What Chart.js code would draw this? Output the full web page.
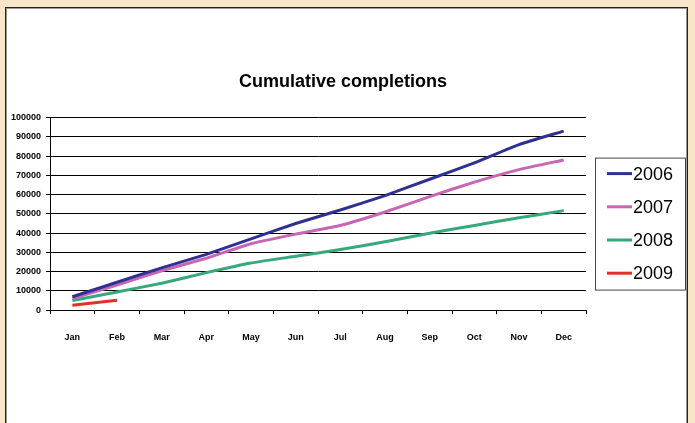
<!DOCTYPE html>
<html>
<head>
<meta charset="utf-8">
<script src="https://cdn.jsdelivr.net/npm/chart.js@4"></script>
<style>
    body { margin: 0; background: #f9e6c9; width: 695px; height: 423px; overflow: hidden; position: relative; }
    #frame { position: absolute; left: 5px; top: 7px; width: 681px; height: 440px; background: #fff;
             border: 1px solid #222; box-shadow: inset 0 0 0 1px #999; }
    #wrap { position: absolute; left: 0; top: 0; width: 695px; height: 423px; }
</style>
</head>
<body>
<div id="frame"></div>
<div id="wrap"><canvas id="completionsChart" width="695" height="423"></canvas></div>
<script>
// Chart data
const months = ['Jan', 'Feb', 'Mar', 'Apr', 'May', 'Jun', 'Jul', 'Aug', 'Sep', 'Oct', 'Nov', 'Dec'];
const years = ['2006', '2007', '2008', '2009'];
const completions2006 = [7000, 14500, 22000, 29000, 37000, 45000, 52000, 59500, 68000, 76500, 86000, 93000];
const completions2007 = [6000, 13000, 20500, 27000, 34500, 39500, 44000, 51000, 59000, 66500, 73000, 78000];
const completions2008 = [5000, 9500, 14000, 19500, 24500, 28000, 31500, 35500, 40000, 44000, 48000, 51700];
const completions2009 = [2600, 5200];
const yTicks = [0, 10000, 20000, 30000, 40000, 50000, 60000, 70000, 80000, 90000, 100000];

const lineColors = ['#2e3192', '#c865b5', '#36a87a', '#e5302a'];
const FONT = 'Arial, "Liberation Sans", sans-serif';

// Excel-style boxed legend, added as a layout box on the right so the
// title stays centred on the whole frame
const boxedLegend = {
    id: 'boxedLegend',
    beforeInit(chart, args, opts) {
        const box = {
            position: 'right',
            weight: 1000,
            fullSize: false,
            options: {},
            isHorizontal() { return false; },
            getPadding() { return { top: 0, left: 0, bottom: 0, right: 0 }; },
            update(maxWidth, maxHeight) {
                this.width = opts.boxWidth;
                this.height = maxHeight;
            },
            draw() {
                const ctx = chart.ctx;
                const left = this.left + opts.gap;
                const top = chart.chartArea.top + opts.offsetTop;
                ctx.save();
                ctx.strokeStyle = '#444';
                ctx.lineWidth = 1;
                ctx.strokeRect(left + 0.5, top + 0.5, opts.frameWidth, opts.frameHeight);
                ctx.font = '18px ' + FONT;
                ctx.textBaseline = 'middle';
                ctx.fillStyle = '#000';
                chart.data.datasets.forEach((ds, i) => {
                    const y = top + opts.firstRow + i * opts.rowGap;
                    ctx.strokeStyle = ds.borderColor;
                    ctx.lineWidth = 3;
                    ctx.beginPath();
                    ctx.moveTo(left + 12, y);
                    ctx.lineTo(left + 37, y);
                    ctx.stroke();
                    ctx.fillText(ds.label, left + 38, y + 1);
                });
                ctx.restore();
            }
        };
        Chart.layouts.addBox(chart, box);
    }
};

document.addEventListener('DOMContentLoaded', function() {
    const series = [completions2006, completions2007, completions2008, completions2009];
    const ctx = document.getElementById('completionsChart').getContext('2d');

    new Chart(ctx, {
        type: 'line',
        data: {
            labels: months,
            datasets: series.map((values, i) => ({
                label: years[i],
                data: values,
                borderColor: lineColors[i],
                backgroundColor: lineColors[i],
                borderWidth: 3,
                pointRadius: 0,
                tension: 0.15,
                fill: false
            }))
        },
        options: {
            responsive: false,
            animation: false,
            layout: {
                padding: { left: 6, right: 15, top: 0, bottom: 62 }
            },
            plugins: {
                legend: { display: false },
                tooltip: { enabled: false },
                title: {
                    display: true,
                    text: 'Cumulative completions',
                    color: '#000',
                    font: { family: FONT, size: 18, weight: 'bold' },
                    padding: { top: 71, bottom: 25 }
                },
                boxedLegend: { boxWidth: 94, gap: 9, offsetTop: 40, frameWidth: 90, frameHeight: 132, firstRow: 16, rowGap: 33.2 }
            },
            scales: {
                x: {
                    offset: true,
                    border: { display: true, color: '#000', width: 1 },
                    grid: {
                        offset: true,
                        drawOnChartArea: false,
                        drawTicks: true,
                        tickLength: 4,
                        color: '#000'
                    },
                    ticks: {
                        color: '#000',
                        padding: 18,
                        maxRotation: 0,
                        autoSkip: false,
                        font: { family: FONT, size: 9, weight: 'bold' }
                    }
                },
                y: {
                    min: 0,
                    max: 100000,
                    afterBuildTicks: axis => { axis.ticks = yTicks.map(v => ({ value: v })); },
                    border: { display: true, color: '#000', width: 1 },
                    grid: {
                        color: '#000',
                        lineWidth: 1,
                        drawTicks: true,
                        tickLength: 4
                    },
                    ticks: {
                        color: '#000',
                        padding: 5,
                        callback: v => String(v),
                        font: { family: FONT, size: 9, weight: 'bold' }
                    }
                }
            }
        },
        plugins: [boxedLegend]
    });
});
</script>
</body>
</html>
